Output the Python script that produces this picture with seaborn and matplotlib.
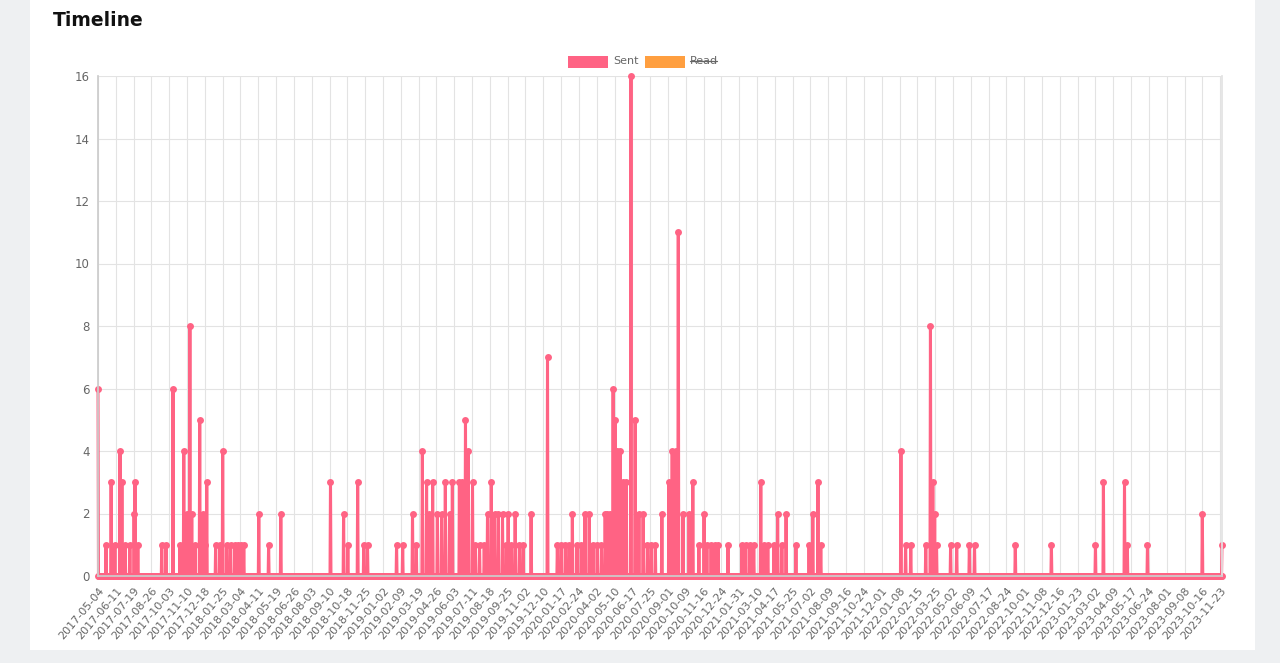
import matplotlib
matplotlib.use("Agg")
import matplotlib.pyplot as plt
import matplotlib.patches as mpatches
import seaborn as sns
import pandas as pd
import numpy as np

start_date = "2017-05-04"
n_days = 2399
event_days = [0,17,28,36,47,51,58,68,77,79,85,136,145,160,175,183,190,196,200,207,217,224,228,232,251,260,266,275,283,292,298,305,311,343,364,390,496,524,533,554,567,575,637,650,671,679,692,701,707,714,724,733,741,750,756,771,777,784,790,799,805,814,824,831,839,846,854,863,871,875,882,890,899,907,924,959,980,988,997,1005,1012,1022,1031,1039,1048,1056,1065,1074,1082,1086,1093,1099,1103,1108,1114,1120,1127,1137,1146,1154,1163,1172,1180,1189,1203,1218,1225,1233,1238,1248,1261,1269,1282,1293,1299,1308,1316,1323,1344,1374,1382,1391,1399,1414,1421,1429,1442,1450,1459,1468,1489,1517,1525,1536,1542,1713,1723,1734,1766,1776,1781,1785,1789,1819,1832,1859,1870,1957,2034,2128,2145,2190,2196,2239,2356,2398]
event_vals = [6,1,3,1,4,3,1,1,2,3,1,1,1,6,1,4,2,8,2,1,5,2,1,3,1,1,4,1,1,1,1,1,1,2,1,2,3,2,1,3,1,1,1,1,2,1,4,3,2,3,2,2,3,2,3,3,3,5,4,3,1,1,1,2,3,2,2,2,1,2,1,2,1,1,2,7,1,1,1,1,2,1,1,2,2,1,1,1,2,2,2,6,5,4,4,3,3,16,5,2,2,1,1,1,2,3,4,4,11,2,2,3,1,2,1,1,1,1,1,1,1,1,1,3,1,1,1,2,1,2,1,1,2,3,1,4,1,1,1,8,3,2,1,1,1,1,1,1,1,1,3,3,1,1,2,1]

dates = pd.date_range(start_date, periods=n_days, freq="D")
sent = np.zeros(n_days)
for d, v in zip(event_days, event_vals):
    sent[d] = v
df = pd.DataFrame({"date": dates, "Sent": sent})

sns.set_theme(style="white")
plt.rcParams['font.family'] = ['DejaVu Sans']
fig = plt.figure(figsize=(12.8, 6.63), dpi=100, facecolor="#eef0f2")
card = fig.add_axes([30/1280, 13/663, 1225/1280, 650/663], zorder=-5)
card.set_facecolor("white")
card.set_xticks([]); card.set_yticks([])
for s in card.spines.values():
    s.set_visible(False)

fig.text(53/1280, 1-21/663, "Timeline", fontsize=13.5, fontweight="semibold", va="center", color="#111")

ax = fig.add_axes([98/1280, 1-576/663, 1124/1280, 500/663], zorder=1)
ax.set_facecolor("white")
pink = "#ff6384"
sns.lineplot(data=df, x="date", y="Sent", ax=ax, color=pink, linewidth=2.2,
             marker="o", markersize=5, markeredgewidth=0)
for ln in ax.lines:
    ln.set_clip_on(False)
ax.set_xlim(dates[0], dates[-1])
ax.set_ylim(0, 16)
ax.set_yticks(range(0, 17, 2))
ticks = dates[::38]
ax.set_xticks(ticks)
ax.set_xticklabels([t.strftime("%Y-%m-%d") for t in ticks], rotation=50, ha="right",
                   rotation_mode="anchor", fontsize=8, color="#666")
ax.tick_params(axis="y", labelsize=8.5, colors="#666", length=0, pad=6)
ax.tick_params(axis="x", length=4, color="#ddd", pad=3)
ax.grid(True, color="#e3e3e3", linewidth=0.8)
ax.set_xlabel(""); ax.set_ylabel("")
ax.spines["top"].set_visible(False)
ax.spines["right"].set_color("#e3e3e3")
for s in ["left", "bottom"]:
    ax.spines[s].set_color("#ccc")

# legend
pink_box = mpatches.Rectangle((568/1280, 1-68/663), 40/1280, 12/663,
                   transform=fig.transFigure, facecolor=pink, edgecolor="none")
orange_box = mpatches.Rectangle((645/1280, 1-68/663), 40/1280, 12/663,
                   transform=fig.transFigure, facecolor="#ff9f40", edgecolor="none")
fig.patches.extend([pink_box, orange_box])
fig.text(613/1280, 1-61/663, "Sent", fontsize=8, color="#666", va="center")
fig.text(690/1280, 1-61/663, "Read", fontsize=8, color="#666", va="center")
fig.lines.append(plt.Line2D([690/1280, 717/1280], [1-61/663, 1-61/663],
                 transform=fig.transFigure, color="#666", linewidth=0.9))

fig.savefig("out.png", dpi=100, facecolor=fig.get_facecolor())
